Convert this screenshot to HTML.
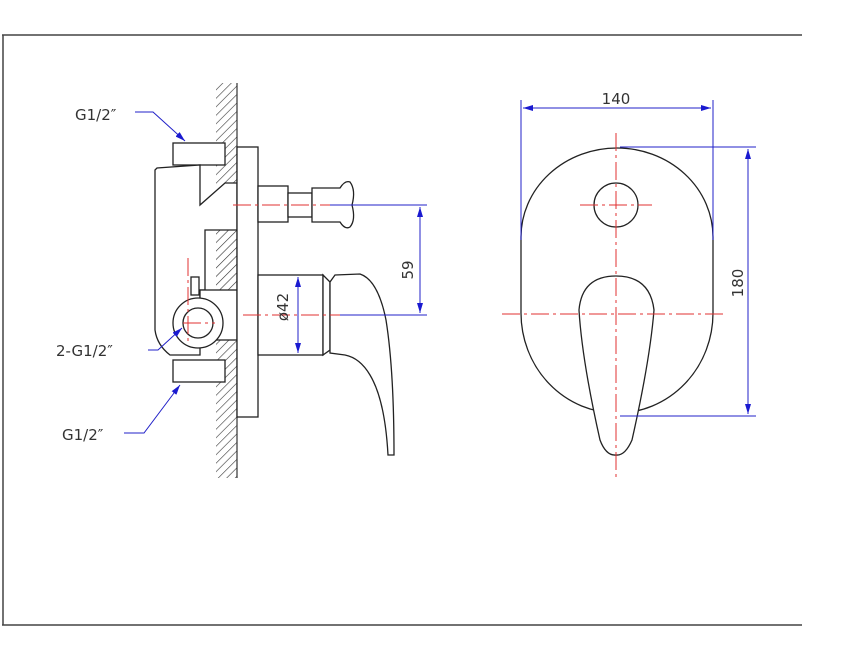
<!DOCTYPE html>
<html><head><meta charset="utf-8"><style>
html,body{margin:0;padding:0;background:#fff}
svg{display:block}
text{font-family:"DejaVu Sans","Liberation Sans",sans-serif;fill:#333;font-size:15px}
</style></head><body>
<svg width="856" height="669" viewBox="0 0 856 669" xmlns="http://www.w3.org/2000/svg">
<defs>
<pattern id="h" width="6" height="6" patternUnits="userSpaceOnUse" patternTransform="rotate(45)">
<line x1="0" y1="0" x2="0" y2="6" stroke="#333" stroke-width="1.2"/></pattern>
<marker id="a" viewBox="0 0 10 6" refX="10" refY="3" markerWidth="10" markerHeight="6" orient="auto-start-reverse" markerUnits="userSpaceOnUse"><path d="M0,0 L10,3 L0,6z" fill="#1a1ad0"/></marker>
</defs>
<g stroke="#444" stroke-width="1.5" fill="none">
<line x1="2" y1="35" x2="802" y2="35"/>
<line x1="3" y1="35" x2="3" y2="625"/>
<line x1="2" y1="625" x2="802" y2="625"/>
</g>
<rect x="216" y="83" width="21" height="395" fill="url(#h)"/>
<line x1="237" y1="83" x2="237" y2="478" stroke="#333" stroke-width="1.2"/>
<g stroke="#222" stroke-width="1.3" fill="#fff">
<rect x="173" y="143" width="52" height="22"/>
<rect x="173" y="360" width="52" height="22"/>
<path d="M155,170 L157,168 L200,165 L200,205 L225,183 L237,183 L237,230 L205,230 L205,290 L200,290 L200,355 L170,355 Q157,345 155,330 Z"/>
<rect x="200" y="290" width="37" height="50"/>
<rect x="191" y="277" width="8" height="18" fill="#fff"/>
<circle cx="198" cy="323" r="25"/>
<circle cx="198" cy="323" r="15"/>
<rect x="237" y="147" width="21" height="270"/>
<rect x="258" y="186" width="30" height="36"/>
<rect x="288" y="193" width="24" height="24"/>
<path d="M312,188 L340,188 Q345,180 350,182 Q356,190 352,205 Q356,220 350,227 Q345,230 340,222 L312,222 Z"/>
<rect x="258" y="275" width="65" height="80"/>
<path d="M323,275 L330,282 L330,350 L323,355 Z"/>
<path d="M335,275 L360,274 Q378,280 386,320 Q394,370 394,455 L388,455 Q385,400 370,375 Q360,358 345,355 L330,353 L330,282 Z"/>
</g>
<g stroke="#e03030" stroke-width="1" stroke-dasharray="18,4,3,4">
<line x1="233" y1="205" x2="330" y2="205"/>
<line x1="243" y1="315" x2="340" y2="315"/>
<line x1="188" y1="258" x2="188" y2="345"/>
<line x1="183" y1="323" x2="215" y2="323"/>
</g>
<g stroke="#2020c8" stroke-width="1" fill="none">
<line x1="330" y1="205" x2="427" y2="205"/>
<line x1="340" y1="315" x2="427" y2="315"/>
<line x1="420" y1="207" x2="420" y2="313" marker-start="url(#a)" marker-end="url(#a)"/>
<line x1="298" y1="277" x2="298" y2="353" marker-start="url(#a)" marker-end="url(#a)"/>
<polyline points="135,112 153,112 185,141" marker-end="url(#a)"/>
<polyline points="148,350 158,350 182,328" marker-end="url(#a)"/>
<polyline points="124,433 144,433 180,385" marker-end="url(#a)"/>
</g>
<text x="405" y="262" transform="rotate(-90 413 262)" text-anchor="middle">59</text>
<text x="296" y="315" transform="rotate(-90 288 315)" text-anchor="middle">ø42</text>
<text x="75" y="120">G1/2″</text>
<text x="56" y="356">2-G1/2″</text>
<text x="62" y="440">G1/2″</text>
<g stroke="#222" stroke-width="1.3" fill="none">
<path d="M521,237 A96,89 0 0 1 713,237 L713,313 A96,100 0 0 1 521,313 Z"/>
<circle cx="616" cy="205" r="22"/>
<path d="M616,276 Q650,276 654,310 Q650,360 632,440 Q625,456 616,455 Q606,456 600,440 Q582,360 579,310 Q582,276 616,276 Z" fill="#fff"/>
</g>
<g stroke="#e03030" stroke-width="1" stroke-dasharray="18,4,3,4">
<line x1="616" y1="133" x2="616" y2="477"/>
<line x1="502" y1="314" x2="727" y2="314"/>
<line x1="580" y1="205" x2="652" y2="205"/>
</g>
<g stroke="#2020c8" stroke-width="1" fill="none">
<line x1="521" y1="100" x2="521" y2="240"/>
<line x1="713" y1="100" x2="713" y2="240"/>
<line x1="523" y1="108" x2="711" y2="108" marker-start="url(#a)" marker-end="url(#a)"/>
<line x1="620" y1="147" x2="756" y2="147"/>
<line x1="620" y1="416" x2="756" y2="416"/>
<line x1="748" y1="149" x2="748" y2="414" marker-start="url(#a)" marker-end="url(#a)"/>
</g>
<text x="616" y="104" text-anchor="middle">140</text>
<text x="738" y="283" transform="rotate(-90 738 283)" text-anchor="middle" dy="5">180</text>
</svg>
</body></html>
